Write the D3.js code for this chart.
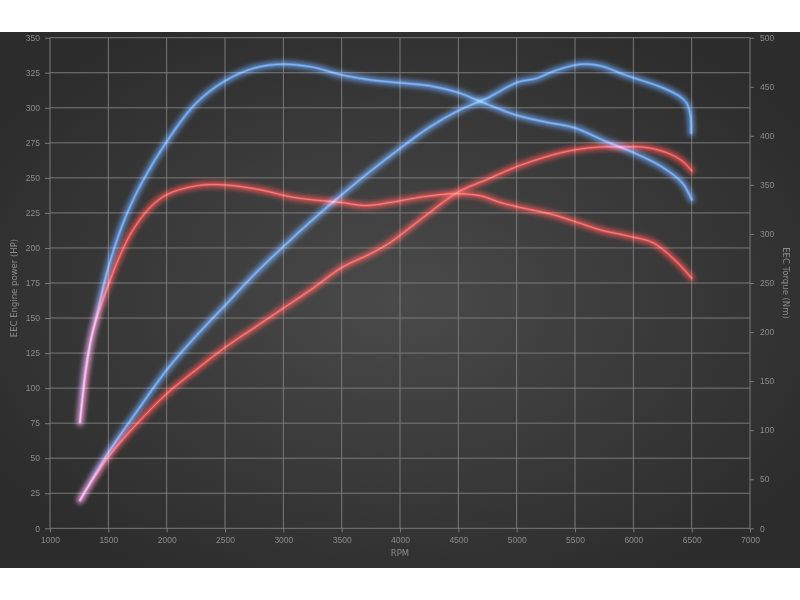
<!DOCTYPE html>
<html>
<head>
<meta charset="utf-8">
<script src="https://cdn.jsdelivr.net/npm/d3@7"></script>
<style>
  html, body { margin: 0; padding: 0; background: #fff; }
  svg { display: block; font-family: "DejaVu Sans", sans-serif; }
</style>
</head>
<body>
<div id="chart"></div>
<script>
// tick values for the three axes
var rpmTicks = [1000, 1500, 2000, 2500, 3000, 3500, 4000, 4500, 5000, 5500, 6000, 6500, 7000];
var hpTicks = [0, 25, 50, 75, 100, 125, 150, 175, 200, 225, 250, 275, 300, 325, 350];
var nmTicks = [0, 50, 100, 150, 200, 250, 300, 350, 400, 450, 500];

// blue run - power (HP)
var bluePowerRpm = [1257, 1500, 1750, 2000, 2250, 2500, 2750, 3000, 3250, 3500, 3750, 4000, 4250, 4500, 4750, 5000, 5171, 5314, 5543, 5714, 5943, 6229, 6400, 6460, 6490, 6495];
var bluePowerHp = [20, 54, 84, 113, 137, 159, 181, 201, 220, 238, 255, 271, 286, 298, 307, 318, 321, 326, 331, 330, 323, 315, 308, 303, 294, 282];

// blue run - torque (Nm)
var blueTorqueRpm = [1257, 1300, 1350, 1400, 1500, 1650, 1800, 2000, 2250, 2500, 2750, 3000, 3250, 3500, 3750, 4000, 4250, 4500, 4750, 5000, 5250, 5500, 5750, 6000, 6250, 6420, 6500];
var blueTorqueNm = [108, 158, 192, 217, 266, 318, 355, 394, 433, 456, 469, 473, 470, 462, 457, 454, 451, 444, 432, 421, 414, 408, 395, 383, 368, 352, 335];

// red run - power (HP)
var redPowerRpm = [1257, 1500, 1750, 2000, 2250, 2500, 2750, 3000, 3250, 3500, 3750, 3900, 4000, 4250, 4500, 4750, 5000, 5250, 5500, 5714, 5900, 6083, 6286, 6420, 6500];
var redPowerHp = [20, 51, 75, 96, 113, 129, 143, 157, 171, 186, 196, 203, 209, 225, 240, 249, 258, 265, 270, 272, 272, 272, 268, 262, 255];

// red run - torque (Nm)
var redTorqueRpm = [1257, 1343, 1400, 1500, 1600, 1700, 1850, 2000, 2250, 2500, 2800, 3100, 3500, 3700, 3914, 4150, 4450, 4686, 4860, 5030, 5300, 5540, 5720, 5950, 6170, 6350, 6500];
var redTorqueNm = [108, 187, 214, 248, 278, 302, 326, 340, 349, 350, 345, 337, 332, 329, 332, 337, 341, 339, 332, 327, 320, 311, 304, 298, 291, 274, 255];

var width = 800, height = 600;
var margin = {top: 38, right: 50, bottom: 72, left: 50};

var svg = d3.select('#chart')
  .append('svg')
  .attr('width', width)
  .attr('height', height);

var defs = svg.append('defs');

// dark background with a lighter middle
var grad = defs.append('radialGradient')
  .attr('id', 'bg')
  .attr('cx', '50%').attr('cy', '50%').attr('r', '60%');
grad.append('stop').attr('offset', '0%').attr('stop-color', '#4a4a4a');
grad.append('stop').attr('offset', '100%').attr('stop-color', '#2c2c2c');

var glow = defs.append('filter')
  .attr('id', 'glow')
  .attr('x', '-10%').attr('y', '-10%').attr('width', '120%').attr('height', '120%');
glow.append('feGaussianBlur').attr('stdDeviation', 2.6);

svg.append('rect')
  .attr('x', 0).attr('y', 32)
  .attr('width', width).attr('height', 536)
  .attr('fill', 'url(#bg)');

var x = d3.scaleLinear().domain([1000, 7000]).range([margin.left, width - margin.right]);
var yHp = d3.scaleLinear().domain([0, 350]).range([height - margin.bottom + 0.3, margin.top - 0.3]);
var yNm = d3.scaleLinear().domain([0, 500]).range([height - margin.bottom + 0.3, margin.top - 0.3]);

var gridColor = '#7a7a7a';
var textColor = '#8c8c8c';

// grid
svg.append('g')
  .selectAll('line')
  .data(rpmTicks)
  .enter().append('line')
  .attr('x1', d => x(d)).attr('x2', d => x(d))
  .attr('y1', yHp(0)).attr('y2', yHp(350))
  .attr('stroke', gridColor).attr('stroke-width', 1);

svg.append('g')
  .selectAll('line')
  .data(hpTicks)
  .enter().append('line')
  .attr('x1', x(1000)).attr('x2', x(7000))
  .attr('y1', d => yHp(d)).attr('y2', d => yHp(d))
  .attr('stroke', gridColor).attr('stroke-width', 1);

// axes
function styleAxis(g) {
  g.select('.domain').remove();
  g.selectAll('line').attr('stroke', gridColor);
  g.selectAll('text').attr('fill', textColor).style('font-size', '8.5px');
}

svg.append('g')
  .attr('transform', `translate(0,${yHp(0)})`)
  .call(d3.axisBottom(x).tickValues(rpmTicks).tickSize(4).tickPadding(5).tickFormat(d3.format('d')))
  .call(styleAxis);

svg.append('g')
  .attr('transform', `translate(${x(1000)},0)`)
  .call(d3.axisLeft(yHp).tickValues(hpTicks).tickSize(5).tickPadding(5))
  .call(styleAxis);

svg.append('g')
  .attr('transform', `translate(${x(7000)},0)`)
  .call(d3.axisRight(yNm).tickValues(nmTicks).tickSize(4).tickPadding(6))
  .call(styleAxis);

// axis titles
svg.append('text')
  .attr('x', (x(1000) + x(7000)) / 2).attr('y', 556)
  .attr('text-anchor', 'middle')
  .attr('fill', textColor).style('font-size', '8.5px')
  .text('RPM');

svg.append('text')
  .attr('transform', 'translate(17,288) rotate(-90)')
  .attr('text-anchor', 'middle')
  .attr('fill', textColor).style('font-size', '8.5px')
  .text('EEC Engine power (HP)');

svg.append('text')
  .attr('transform', 'translate(783,283) rotate(90)')
  .attr('text-anchor', 'middle')
  .attr('fill', textColor).style('font-size', '8.5px')
  .text('EEC Torque (Nm)');

// curves
function drawCurve(rpm, vals, yScale, color, core) {
  var pts = rpm.map((r, i) => [r, vals[i]]);
  var line = d3.line()
    .x(d => x(d[0]))
    .y(d => yScale(d[1]))
    .curve(d3.curveCatmullRom.alpha(0.5));
  var g = svg.append('g').style('mix-blend-mode', 'screen');
  g.append('path')
    .datum(pts)
    .attr('d', line)
    .attr('fill', 'none')
    .attr('stroke', color)
    .attr('stroke-width', 6.5)
    .attr('stroke-linecap', 'round')
    .attr('opacity', 0.85)
    .attr('filter', 'url(#glow)');
  g.append('path')
    .datum(pts)
    .attr('d', line)
    .attr('fill', 'none')
    .attr('stroke', color)
    .attr('stroke-width', 2.5)
    .attr('stroke-linecap', 'round');
  g.append('path')
    .datum(pts)
    .attr('d', line)
    .attr('fill', 'none')
    .attr('stroke', core)
    .attr('stroke-width', 0.8)
    .attr('opacity', 0.7);
}

drawCurve(blueTorqueRpm, blueTorqueNm, yNm, '#3f7fd6', '#8fc0f5');
drawCurve(bluePowerRpm, bluePowerHp, yHp, '#3f7fd6', '#8fc0f5');
drawCurve(redTorqueRpm, redTorqueNm, yNm, '#d42020', '#ff8a8a');
drawCurve(redPowerRpm, redPowerHp, yHp, '#d42020', '#ff8a8a');
</script>
</body>
</html>
